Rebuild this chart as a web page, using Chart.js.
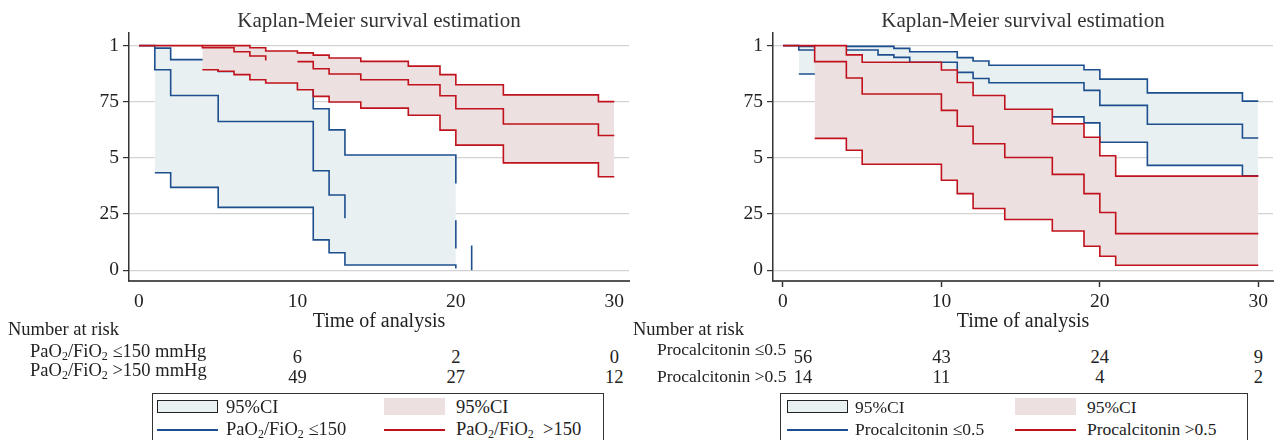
<!DOCTYPE html>
<html>
<head>
<meta charset="utf-8">
<title>Kaplan-Meier survival estimation</title>
<script src="https://cdn.jsdelivr.net/npm/chart.js@4.4.1/dist/chart.umd.min.js"></script>
<style>
    body { margin: 0; background: #fff; }
    #page { position: relative; width: 1288px; height: 440px; overflow: hidden; font-family: "Liberation Serif", "DejaVu Serif", serif; color: #222; }
    #page canvas { position: absolute; top: 0; }
    .t { position: absolute; white-space: nowrap; font-size: 18.5px; line-height: 20px; }
    .t.p { font-size: 17.5px; }
    .c { transform: translate(-50%, -50%); }
    .l { transform: translateY(-50%); }
    sub { font-size: 12px; vertical-align: -3px; line-height: 0; }
    .legenda { position: absolute; top: 393px; height: 60px; border: 1px solid #333; box-sizing: border-box; }
    .sw { position: absolute; box-sizing: border-box; }
</style>
</head>
<body>
<div id="page">
    <canvas id="kmPaf" width="644" height="335" style="left:0"></canvas>
    <canvas id="kmPct" width="644" height="335" style="left:644px"></canvas>
</div>
<script>
// eixos
const xTicks = [0, 10, 20, 30]
const yTicks = [0, 0.25, 0.5, 0.75, 1]
const yTickLabels = ['0', '25', '5', '75', '1']

// PaO2/FiO2 <=150 mmHg (null = break in the line)
const pafLowT = [0, 1, 2, 5, 11, 12, 13, 16, 20, 20, 20.5, 21, 21]
const pafLowS = [1, .893, .778, .662, .443, .335, .231, null, .223, .097, null, .11, 0]
const pafLowHiT = [1, 2, 5, 11, 12, 13, 20]
const pafLowHiS = [.989, .938, .885, .719, .625, .513, .386]
const pafLowLoT = [1, 2, 5, 11, 12, 13, 20]
const pafLowLoS = [.434, .369, .280, .135, .078, .023, .008]

// PaO2/FiO2 >150 mmHg
const pafHighT = [0, 4, 6, 7, 8, 9, 10, 11, 12, 14, 17, 19, 20, 23, 29, 30]
const pafHighS = [1, .991, .973, .954, .934, null, .929, .897, .874, .848, .826, .777, .719, .651, .600, .600]
const pafHighHiT = [4, 7, 8, 10, 11, 12, 14, 17, 19, 20, 23, 29, 30]
const pafHighHiS = [1, .991, .976, .968, .958, .945, .930, .909, .871, .826, .781, .751, .751]
const pafHighLoT = [4, 5, 6, 7, 8, 10, 11, 12, 14, 17, 19, 20, 23, 29, 30]
const pafHighLoS = [.893, .886, .871, .848, .834, .804, .774, .749, .722, .690, .624, .557, .478, .416, .416]

// Procalcitonin <=0.5
const pctLowT = [0, 1, 6, 7, 8, 11, 12, 13, 19, 20, 23, 29, 30]
const pctLowS = [1, .981, .959, .948, .926, .881, .854, .835, .801, .734, .650, .589, .589]
const pctLowHiT = [1, 7, 8, 11, 12, 13, 19, 20, 23, 29, 30]
const pctLowHiS = [.997, .988, .973, .947, .932, .913, .893, .851, .790, .753, .753]
const pctLowLoT = [1, 6, 7, 8, 11, 12, 13, 19, 20, 23, 29, 30]
const pctLowLoS = [.874, .862, .845, .820, .765, .735, .683, .656, .570, .467, .420, .420]

// Procalcitonin >0.5
const pctHighT = [0, 2, 4, 5, 10, 11, 12, 14, 17, 19, 20, 21, 30]
const pctHighS = [1, .929, .856, .785, .712, .641, .563, .502, .427, .341, .257, .163, .163]
const pctHighHiT = [2, 4, 5, 10, 11, 12, 14, 17, 19, 20, 21, 30]
const pctHighHiS = [1, .959, .926, .892, .836, .778, .717, .652, .592, .510, .419, .419]
const pctHighLoT = [2, 4, 5, 10, 11, 12, 14, 17, 19, 20, 21, 30]
const pctHighLoS = [.587, .534, .472, .401, .341, .275, .226, .175, .107, .062, .022, .022]

// number at risk
const pafRiskT = [10, 20, 30]
const pafRiskLow = [6, 2, 0]
const pafRiskHigh = [49, 27, 12]
const pctRiskT = [0, 10, 20, 30]
const pctRiskLow = [56, 43, 24, 9]
const pctRiskHigh = [14, 11, 4, 2]

const AZUL = '#1d4f8f'
const VERMELHO = '#c0121c'
const AZUL_CLARO = '#e8f0f2'
const VERMELHO_CLARO = '#ede0e1'

Chart.defaults.font.family = '"Liberation Serif", "DejaVu Serif", serif'
Chart.defaults.color = '#333'

// centre the title over the plot area, not over the whole canvas
const tituloNoPlot = {
    id: 'tituloNoPlot',
    afterLayout(chart) {
        if (chart.titleBlock) {
            chart.titleBlock.left = chart.chartArea.left
            chart.titleBlock.right = chart.chartArea.right
        }
    }
}

function steps(times, surv) {
    return times.map((t, i) => ({ x: t, y: surv[i] }))
}

function linha(data, cor, order) {
    return { data: data, borderColor: cor, borderWidth: 1.6, pointRadius: 0, stepped: true, fill: false, order: order }
}

function faixa(data, cor, fill, order) {
    return { data: data, borderColor: 'rgba(0,0,0,0)', borderWidth: 0, backgroundColor: cor, pointRadius: 0, stepped: true, fill: fill, order: order }
}

function renderKM(id, g1, g2, xTickColor) {
    const datasets = [
        faixa(steps(g1.hiT, g1.hiS), AZUL_CLARO, '+1', 6),
        faixa(steps(g1.loT, g1.loS), AZUL_CLARO, false, 6),
        linha(steps(g1.hiT, g1.hiS), AZUL, 5),
        linha(steps(g1.loT, g1.loS), AZUL, 5),
        linha(steps(g1.t, g1.s), AZUL, 5),
        faixa(steps(g2.hiT, g2.hiS), VERMELHO_CLARO, '+1', 4),
        faixa(steps(g2.loT, g2.loS), VERMELHO_CLARO, false, 4),
        linha(steps(g2.hiT, g2.hiS), VERMELHO, 3),
        linha(steps(g2.loT, g2.loS), VERMELHO, 3),
        linha(steps(g2.t, g2.s), VERMELHO, 3),
    ]

    return new Chart(document.getElementById(id), {
        type: 'line',
        data: { datasets: datasets },
        plugins: [tituloNoPlot],
        options: {
            responsive: false,
            animation: false,
            spanGaps: false,
            layout: { padding: { left: 0, right: 15, top: 0, bottom: 0 } },
            plugins: {
                legend: { display: false },
                tooltip: { enabled: false },
                title: {
                    display: true,
                    text: 'Kaplan-Meier survival estimation',
                    font: { size: 21, weight: 'normal', lineHeight: 1.1 },
                    color: '#333',
                    padding: { top: 10, bottom: 0 }
                }
            },
            scales: {
                x: {
                    type: 'linear',
                    min: -0.63,
                    max: 30.93,
                    afterBuildTicks: s => { s.ticks = xTicks.map(v => ({ value: v })) },
                    afterFit: s => { s.height = 54 },
                    ticks: { font: { size: 19.5 }, color: '#222', padding: 3, maxRotation: 0 },
                    grid: { drawOnChartArea: false, tickLength: 6, tickColor: xTickColor, tickWidth: 1.5 },
                    border: { display: true, color: '#555', width: 2 },
                    title: { display: true, text: 'Time of analysis', font: { size: 20 }, color: '#222', padding: { top: 0, bottom: 1 } }
                },
                y: {
                    min: -0.048,
                    max: 1.056,
                    afterBuildTicks: s => { s.ticks = yTicks.map(v => ({ value: v })) },
                    afterFit: s => { s.width = 129 },
                    ticks: { font: { size: 19.5 }, color: '#222', padding: 4, callback: (v, i) => yTickLabels[i] },
                    grid: { color: '#d2d2d2', lineWidth: 1.2, tickLength: 6, tickColor: '#333', tickWidth: 1.2 },
                    border: { display: true, color: '#333', width: 1.5 }
                }
            }
        }
    })
}

const page = document.getElementById('page')

function texto(html, x, y, cls) {
    const el = document.createElement('div')
    el.className = 't ' + cls
    el.style.left = x + 'px'
    el.style.top = y + 'px'
    el.innerHTML = html
    page.appendChild(el)
}

function legenda(left, width, sw1, sw2, txt1, txt2, lab1, lab2, cls) {
    const box = document.createElement('div')
    box.className = 'legenda'
    box.style.left = left + 'px'
    box.style.width = width + 'px'
    page.appendChild(box)

    const a = document.createElement('div')
    a.className = 'sw'
    a.style.cssText = `left:${sw1}px;top:400px;width:61px;height:13px;background:${AZUL_CLARO};border:1.5px solid #222`
    page.appendChild(a)
    const b = document.createElement('div')
    b.className = 'sw'
    b.style.cssText = `left:${sw2}px;top:398px;width:61px;height:17px;background:${VERMELHO_CLARO}`
    page.appendChild(b)
    const c = document.createElement('div')
    c.className = 'sw'
    c.style.cssText = `left:${sw1}px;top:429px;width:61px;height:1.6px;background:${AZUL}`
    page.appendChild(c)
    const d = document.createElement('div')
    d.className = 'sw'
    d.style.cssText = `left:${sw2}px;top:429px;width:61px;height:1.6px;background:${VERMELHO}`
    page.appendChild(d)

    texto('95%CI', txt1, 407, 'l ' + cls)
    texto('95%CI', txt2, 407, 'l ' + cls)
    texto(lab1, txt1, 429, 'l ' + cls)
    texto(lab2, txt2, 429, 'l ' + cls)
}

// painel esquerdo: PaO2/FiO2
const chartPaf = renderKM('kmPaf',
    { t: pafLowT, s: pafLowS, hiT: pafLowHiT, hiS: pafLowHiS, loT: pafLowLoT, loS: pafLowLoS },
    { t: pafHighT, s: pafHighS, hiT: pafHighHiT, hiS: pafHighHiS, loT: pafHighLoT, loS: pafHighLoS },
    'rgba(0,0,0,0)')

// painel direito: Procalcitonin
const chartPct = renderKM('kmPct',
    { t: pctLowT, s: pctLowS, hiT: pctLowHiT, hiS: pctLowHiS, loT: pctLowLoT, loS: pctLowLoS },
    { t: pctHighT, s: pctHighS, hiT: pctHighHiT, hiS: pctHighHiS, loT: pctHighLoT, loS: pctHighLoS },
    '#333')

const pafO2 = 'PaO<sub>2</sub>/FiO<sub>2</sub>'

texto('Number at risk', 8, 329, 'l')
texto(pafO2 + ' ≤150 mmHg', 30, 351, 'l')
texto(pafO2 + ' >150 mmHg', 30, 370, 'l')
pafRiskT.forEach((t, i) => {
    const x = chartPaf.scales.x.getPixelForValue(t)
    texto(String(pafRiskLow[i]), x, 357, 'c')
    texto(String(pafRiskHigh[i]), x, 377, 'c')
})

texto('Number at risk', 633, 329, 'l')
texto('Procalcitonin ≤0.5', 657, 349, 'l p')
texto('Procalcitonin >0.5', 657, 376, 'l p')
pctRiskT.forEach((t, i) => {
    // the t=0 column is pushed right, clear of the row labels
    const x = 644 + chartPct.scales.x.getPixelForValue(t) + (t === 0 ? 20 : 0)
    texto(String(pctRiskLow[i]), x, 357, 'c')
    texto(String(pctRiskHigh[i]), x, 377, 'c')
})

legenda(152, 452, 157, 384, 226, 456, pafO2 + ' ≤150', pafO2 + '&nbsp; >150', '')
legenda(780, 468, 787, 1015, 855, 1087, 'Procalcitonin ≤0.5', 'Procalcitonin >0.5', 'p')
</script>
</body>
</html>
